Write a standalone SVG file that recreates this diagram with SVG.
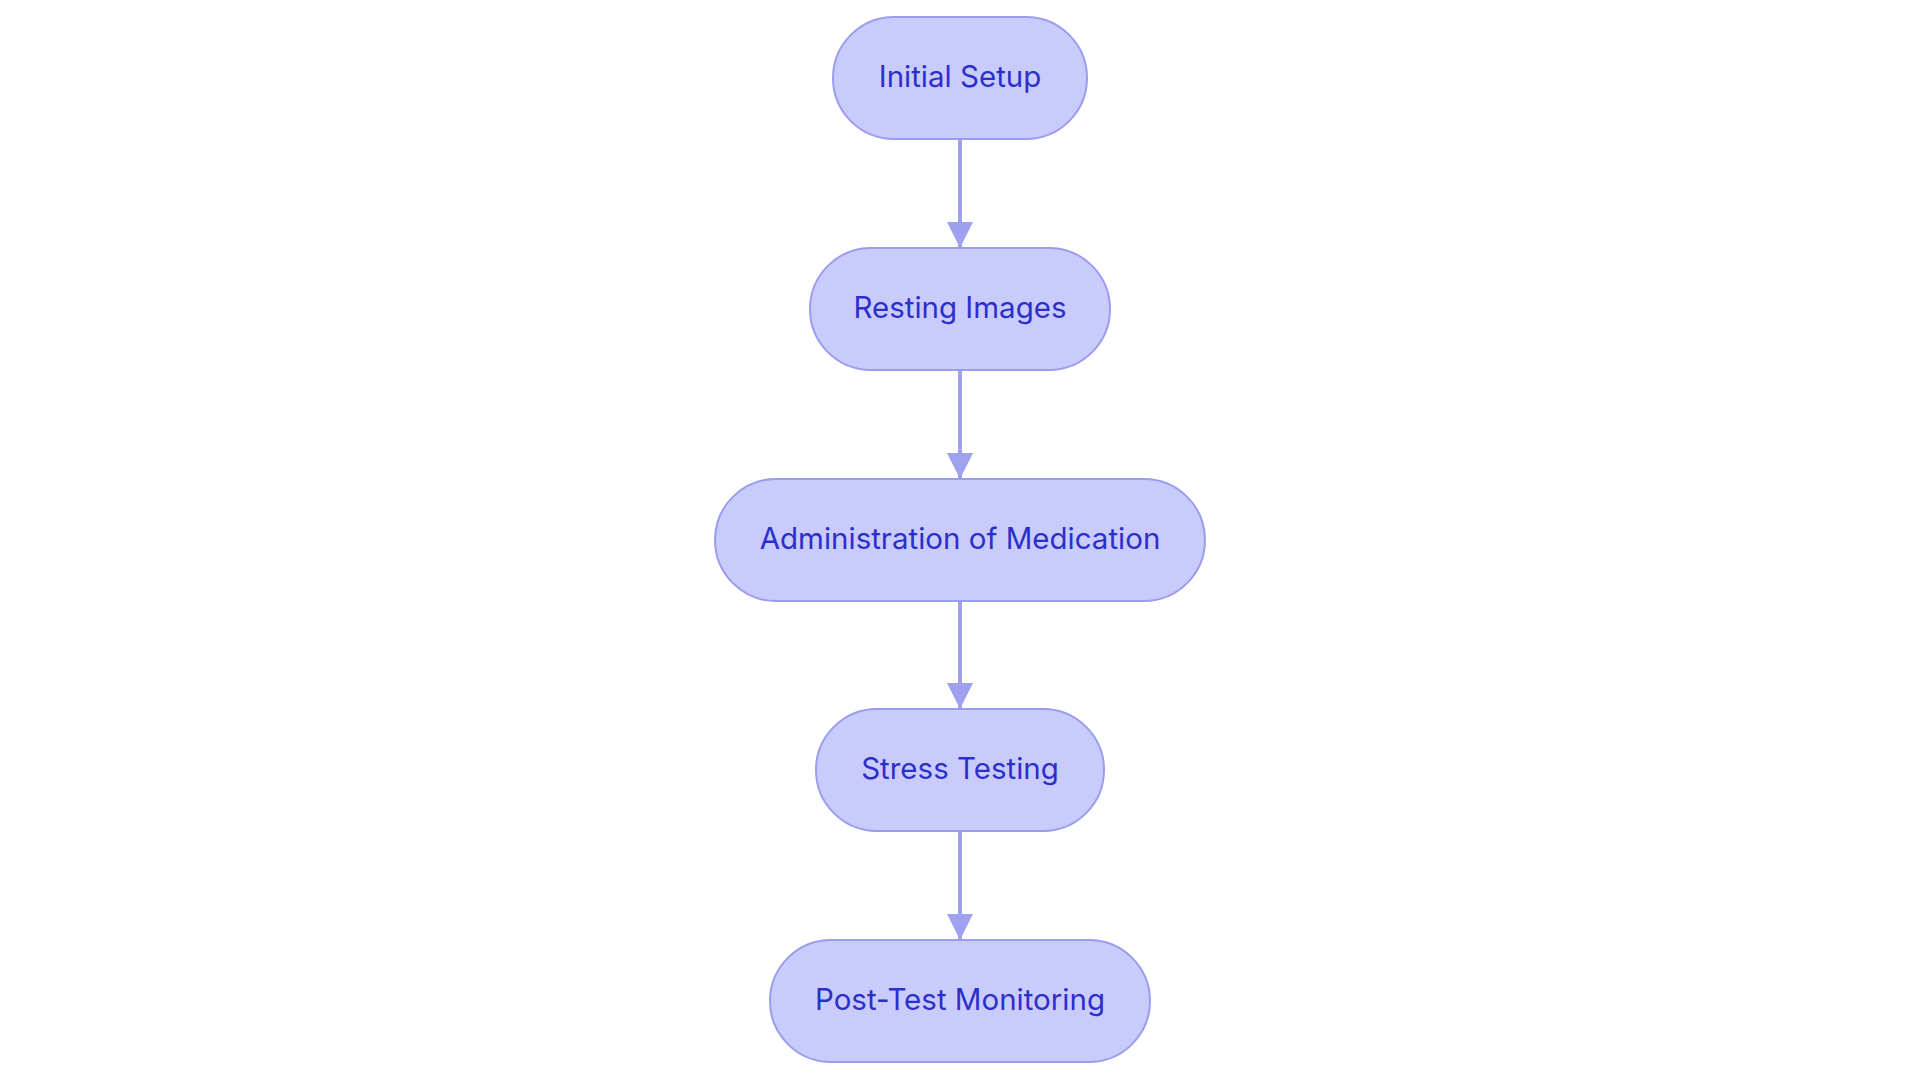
<svg xmlns="http://www.w3.org/2000/svg" width="1920" height="1083" viewBox="0 0 1920 1083">
<style>
.node rect{fill:#cacbfd;stroke:#9a9cee;stroke-width:2}
.node text{font-family:Inter,"Noto Sans",sans-serif;font-size:29.5px;fill:#2b2fcb;text-anchor:middle}
.edge{stroke:#9ea1f0;stroke-width:4;fill:none}
</style>
<defs>
<marker id="arr" markerWidth="26" markerHeight="26" refX="26" refY="13" orient="auto" markerUnits="userSpaceOnUse">
<path d="M0,0 L26,13 L0,26 z" fill="#9ea1f0"/>
</marker>
</defs>
<rect width="1920" height="1083" fill="#ffffff"/>
<g id="connectors">
<path class="edge" d="M960,139 L960,248" marker-end="url(#arr)"/>
<path class="edge" d="M960,370 L960,479" marker-end="url(#arr)"/>
<path class="edge" d="M960,601 L960,709" marker-end="url(#arr)"/>
<path class="edge" d="M960,831 L960,940" marker-end="url(#arr)"/>
</g>
<g id="n1" class="node"><rect x="833" y="17" width="254" height="122" rx="61"/><text x="960" y="87">Initial Setup</text></g>
<g id="n2" class="node"><rect x="810" y="248" width="300" height="122" rx="61"/><text x="960" y="318">Resting Images</text></g>
<g id="n3" class="node"><rect x="715" y="479" width="490" height="122" rx="61"/><text x="960" y="549">Administration of Medication</text></g>
<g id="n4" class="node"><rect x="816" y="709" width="288" height="122" rx="61"/><text x="960" y="779">Stress Testing</text></g>
<g id="n5" class="node"><rect x="770" y="940" width="380" height="122" rx="61"/><text x="960" y="1010">Post-Test Monitoring</text></g>
</svg>
